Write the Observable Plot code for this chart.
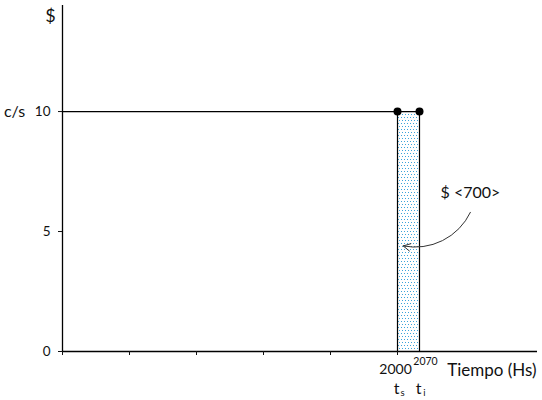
<!DOCTYPE html>
<html>
<head>
<meta charset="utf-8">
<script src="https://cdn.jsdelivr.net/npm/d3@7"></script>
<script src="https://cdn.jsdelivr.net/npm/@observablehq/plot@0.6"></script>
<style>
  html, body { margin: 0; padding: 0; background: #fff; }
  svg { display: block; }
</style>
</head>
<body>
<div id="chart"></div>
<script>
// Data
const yTicks = [0, 5, 10];
const xTicks = [0, 400, 800, 1200, 1600, 2000];
const tStart = 2000;     // t_s
const tEnd = 2070;       // t_i
const rate = 10;         // c/s
const costLabel = "$ <700>";
const xTitle = "Tiempo (Hs)";
const yTitle = "$";
const yUnit = "c/s";
const markers = [
  {x: tStart, label: "2000", sub: "s"},
  {x: tEnd, label: "2070", sub: "i"}
];
const levelLine = [{x: 0, y: rate}, {x: tEnd, y: rate}];

const font = "Lato, 'Open Sans', sans-serif";

const chart = Plot.plot({
  width: 542,
  height: 400,
  marginLeft: 62,
  marginRight: 5,
  marginTop: 5,
  marginBottom: 49,
  style: {fontFamily: font, fontSize: "13px", color: "#111", background: "#fff"},
  x: {type: "linear", domain: [0, 2000, 2070, 2770], range: [62, 397, 419, 537]},
  y: {domain: [0, 14.42]},
  marks: [
    Plot.rect([{x1: tStart, x2: tEnd, y1: 0, y2: rate}], {x1: "x1", x2: "x2", y1: "y1", y2: "y2", fill: "url(#stipple)"}),
    Plot.ruleX([tStart, tEnd], {y1: 0, y2: rate, stroke: "#000", strokeWidth: 1.2}),
    Plot.line(levelLine, {x: "x", y: "y", stroke: "#000", strokeWidth: 1.2}),
    Plot.ruleY([0], {stroke: "#000", strokeWidth: 1.3}),
    Plot.ruleX([0], {stroke: "#000", strokeWidth: 1.3}),
    Plot.axisY({ticks: yTicks, tickSize: 4, tickPadding: 8, label: null, fontSize: 13.5}),
    Plot.axisX({ticks: xTicks, tickSize: 4, tickFormat: () => "", label: null}),
    Plot.dot([tStart, tEnd], {x: d => d, y: rate, r: 4, fill: "#000"}),
    // x labels
    Plot.text([markers[0]], {x: "x", y: 0, text: "label", dy: 18, dx: -2, fontSize: 14, textAnchor: "middle"}),
    Plot.text([markers[1]], {x: "x", y: 0, text: "label", dy: 10, dx: 6, fontSize: 10.5, textAnchor: "middle"}),
    Plot.text(markers, {x: "x", y: 0, text: () => "t", dy: 37, dx: -1, fontSize: 16, textAnchor: "middle"}),
    Plot.text(markers, {x: "x", y: 0, text: "sub", dy: 41, dx: 5, fontSize: 9.5, textAnchor: "middle"}),
    Plot.text([xTitle], {x: 2770, y: 0, text: d => d, dy: 19, dx: -1, fontSize: 17, textAnchor: "end"}),
    // y labels
    Plot.text([yTitle], {x: 0, y: 14, text: d => d, dx: -12, dy: 1, fontSize: 18, textAnchor: "middle"}),
    Plot.text([yUnit], {x: 0, y: rate, text: d => d, dx: -48, fontSize: 16, textAnchor: "middle"}),
    // annotation
    Plot.text([costLabel], {x: 2372, y: 6.6, text: d => d, fontSize: 16, textAnchor: "middle"}),
    Plot.arrow([{x1: 2372, y1: 5.8, x2: 2018, y2: 4.4}], {
      x1: "x1", y1: "y1", x2: "x2", y2: "y2", bend: 38, stroke: "#333", strokeWidth: 1, headLength: 12, headAngle: 55
    })
  ]
});

const defs = d3.select(chart).insert("defs", ":first-child");
const pat = defs.append("pattern")
  .attr("id", "stipple").attr("patternUnits", "userSpaceOnUse")
  .attr("width", 6).attr("height", 6);
pat.append("rect").attr("width", 6).attr("height", 6).attr("fill", "#fff");
const dotColor = "#3ea4da";
[[0, 0], [3, 0], [1.5, 3], [4.5, 3]].forEach(([x, y]) => {
  pat.append("rect").attr("x", Math.round(x)).attr("y", y).attr("width", 1).attr("height", 1).attr("fill", dotColor);
});

document.getElementById("chart").appendChild(chart);
</script>
</body>
</html>
